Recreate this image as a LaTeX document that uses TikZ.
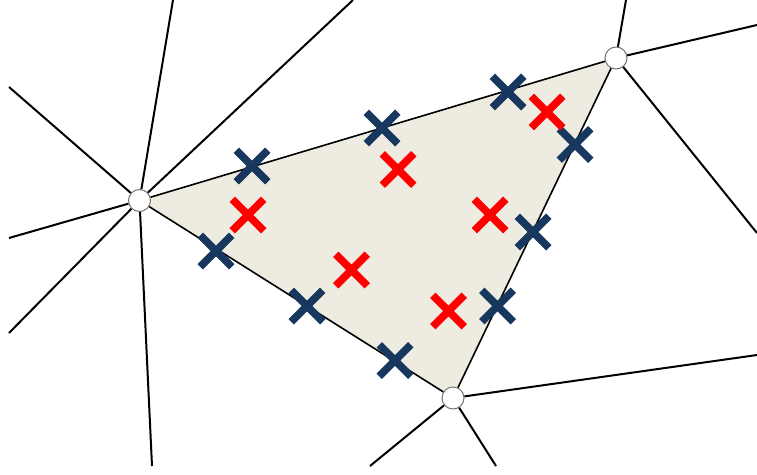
\documentclass[tikz,border=0pt]{standalone}
\usepackage{tikz}
\usetikzlibrary{shapes.misc,backgrounds}
\definecolor{albastru}{HTML}{17375E}
\definecolor{bej}{HTML}{EEECE1}
\tikzset{
  varf/.style    = {draw=black!55, fill=white, circle, line width=1pt,
                    minimum size=22pt, inner sep=0pt},
  muchie/.style  = {black, line width=2pt},
  latura/.style  = {black, line width=1.6pt},
  cruce/.style   = {cross out, draw, line width=7.5pt, minimum size=24pt,
                    inner sep=0pt},
  crucea/.style  = {cruce, draw=albastru},
  crucer/.style  = {cruce, draw=red}
}
\begin{document}
\begin{tikzpicture}[x=1pt, y=-1pt]
        \useasboundingbox (0,0) rectangle (757,474);

        % varfurile triunghiului
        \node[varf] (stanga) at (139.5,200.5) {};
        \node[varf] (dreapta) at (616,58) {};
        \node[varf] (jos) at (453,398) {};

        % capetele muchiilor exterioare
        \coordinate (s1) at (173,0);
        \coordinate (s2) at (353,0);
        \coordinate (s3) at (9,87);
        \coordinate (s4) at (9,238);
        \coordinate (s5) at (9,333);
        \coordinate (s6) at (152,466);
        \coordinate (d1) at (626,0);
        \coordinate (d2) at (757,25);
        \coordinate (d3) at (757,233);
        \coordinate (j1) at (757,355);
        \coordinate (j2) at (370,466);
        \coordinate (j3) at (496,466);

        \begin{scope}[on background layer]
            \fill[bej] (stanga.center) -- (dreapta.center) -- (jos.center) -- cycle;
        \end{scope}

        \draw[latura] (stanga) -- (dreapta);
        \draw[latura] (dreapta) -- (jos);
        \draw[latura] (jos) -- (stanga);

        \draw[muchie] (stanga) -- (s1);
        \draw[muchie] (stanga) -- (s2);
        \draw[muchie] (stanga) -- (s3);
        \draw[muchie] (stanga) -- (s4);
        \draw[muchie] (stanga) -- (s5);
        \draw[muchie] (stanga) -- (s6);
        \draw[muchie] (dreapta) -- (d1);
        \draw[muchie] (dreapta) -- (d2);
        \draw[muchie] (dreapta) -- (d3);
        \draw[muchie] (jos) -- (j1);
        \draw[muchie] (jos) -- (j2);
        \draw[muchie] (jos) -- (j3);

        % puncte pe laturi
        \node[crucea] (a1) at (252,166) {};
        \node[crucea] (a2) at (382,128) {};
        \node[crucea] (a3) at (508,92) {};
        \node[crucea] (a4) at (575,144.5) {};
        \node[crucea] (a5) at (533,232) {};
        \node[crucea] (a6) at (497.5,306) {};
        \node[crucea] (a7) at (395,360.5) {};
        \node[crucea] (a8) at (307,306) {};
        \node[crucea] (a9) at (216,251) {};

        % puncte interioare
        \node[crucer] (r1) at (248,215) {};
        \node[crucer] (r2) at (398,169.5) {};
        \node[crucer] (r3) at (547,112) {};
        \node[crucer] (r4) at (490,215) {};
        \node[crucer] (r5) at (351.5,270) {};
        \node[crucer] (r6) at (448.5,311) {};
    \end{tikzpicture}
\end{document}
